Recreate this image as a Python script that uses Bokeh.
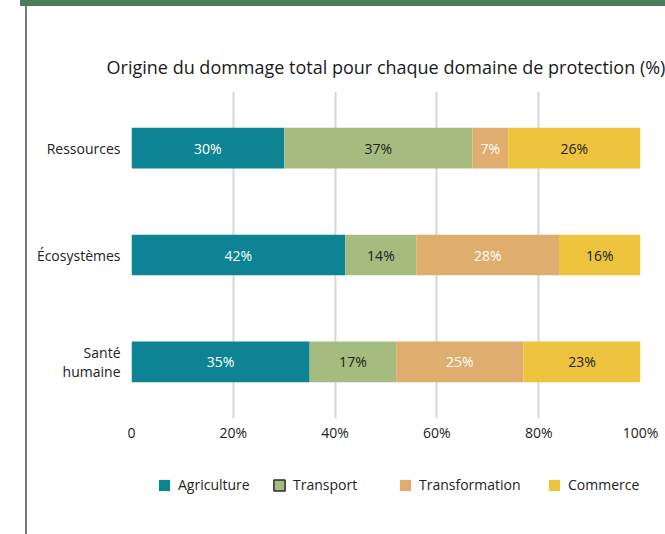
from bokeh.plotting import figure
from bokeh.layouts import column
from bokeh.models import (FactorRange, FixedTicker, Legend, LegendItem, ColumnDataSource)
from bokeh.core.properties import value
from bokeh.embed import file_html
from bokeh.resources import INLINE
import numpy as np

# ---- data ----
domains = ["Ressources", "Écosystèmes", "Santé\nhumaine"]
sources = ["Agriculture", "Transport", "Transformation", "Commerce"]
agriculture = [30, 42, 35]
transport = [37, 14, 17]
transformation = [7, 28, 25]
commerce = [26, 16, 23]
x_ticks = [0, 20, 40, 60, 80, 100]
x_tick_labels = ["0", "20%", "40%", "60%", "80%", "100%"]
title_text = "Origine du dommage total pour chaque domaine de protection (%)"

colors = ["#0d8494", "#a5bc7e", "#dfad6e", "#eec43f"]
label_colors = ["#ffffff", "#222222", "#ffffff", "#222222"]
FONT = "Open Sans"

W = 665
H1, H2 = 450, 84
FRAME_L, FRAME_R = 131, 640

p = figure(width=W, height=H1, output_backend="svg", toolbar_location=None,
           y_range=FactorRange(factors=domains[::-1], range_padding=0.02),
           x_range=(0, 100),
           min_border_left=FRAME_L, min_border_right=W - FRAME_R,
           min_border_top=91, min_border_bottom=H1 - 418)
p.outline_line_color = None
p.background_fill_color = "white"
p.border_fill_alpha = 0

p.title.text = title_text
p.title.align = "center"
p.title.text_font = FONT
p.title.text_font_size = "18px"
p.title.text_font_style = "normal"
p.title.text_color = "#1a1a1a"
p.title.standoff = 26

series = [agriculture, transport, transformation, commerce]
left = np.zeros(len(domains))
for name, vals, col, lcol in zip(sources, series, colors, label_colors):
    vals = np.array(vals, dtype=float)
    right = left + vals
    src = ColumnDataSource(dict(y=domains, left=left, right=right,
                                mid=(left + right) / 2,
                                txt=[f"{int(v)}%" for v in vals]))
    p.hbar(y="y", left="left", right="right", height=0.38, source=src,
           fill_color=col, line_color=None)
    p.text(x="mid", y="y", text="txt", source=src, text_align="center",
           text_baseline="middle", text_color=lcol, text_font=value(FONT),
           text_font_size="14px")
    left = right

p.xgrid.ticker = FixedTicker(ticks=x_ticks)
p.xgrid.grid_line_color = "#d6d6d6"
p.xgrid.grid_line_width = 2
p.ygrid.grid_line_color = None

p.xaxis.ticker = FixedTicker(ticks=x_ticks)
p.xaxis.major_label_overrides = {t: l for t, l in zip(x_ticks, x_tick_labels)}
p.xaxis.axis_line_color = None
p.xaxis.major_tick_line_color = None
p.xaxis.minor_tick_line_color = None
p.xaxis.major_tick_out = 0
p.xaxis.major_label_standoff = 4
p.xaxis.major_label_text_font = FONT
p.xaxis.major_label_text_font_size = "14px"
p.xaxis.major_label_text_color = "#222222"

p.yaxis.axis_line_color = None
p.yaxis.major_tick_line_color = None
p.yaxis.minor_tick_line_color = None
p.yaxis.major_label_standoff = 5
p.yaxis.major_label_text_font = FONT
p.yaxis.major_label_text_font_size = "14px"
p.yaxis.major_label_text_line_height = 1.0
p.yaxis.major_label_text_color = "#222222"

# ---- legend strip (its frame is aligned with the chart frame by the column) ----
p2 = figure(width=W, height=H2, output_backend="svg", toolbar_location=None,
            x_range=(0, 1), y_range=(0, 1),
            x_axis_location=None, y_axis_location=None,
            min_border_left=0, min_border_right=0, min_border_top=0, min_border_bottom=0)
p2.outline_line_color = None
p2.grid.visible = False
p2.background_fill_color = "white"
p2.border_fill_alpha = 0

leg_x = [157, 272, 398, 547]
for name, col, lx in zip(sources, colors, leg_x):
    lc = "#2b2b2b" if name == "Transport" else None
    # swatch renderer: one undefined (NaN) point, so nothing is drawn on the canvas
    rr = p2.rect(x=[np.nan], y=[np.nan], width=1, height=1, fill_color=col,
                 line_color=lc, line_width=1.5)
    lg = Legend(items=[LegendItem(label=name, renderers=[rr])],
                location=(lx - FRAME_L, 40), orientation="horizontal",
                glyph_width=14, glyph_height=14, label_height=14,
                label_standoff=7, padding=0, margin=0, spacing=0,
                border_line_color=None, background_fill_alpha=0,
                label_text_font=FONT, label_text_font_size="14px",
                label_text_color="#222222")
    p2.add_layout(lg, "center")

layout = column(p, p2, spacing=0)
# page decoration of the cropped source: green header strip and grey left rule
layout.styles = {
    "background": ("linear-gradient(#4e7b5b, #4e7b5b) 20px 0px / 645px 6px no-repeat, "
                   "linear-gradient(#7a7a7a, #7a7a7a) 25px 6px / 2px 528px no-repeat, #ffffff"),
}
open("out.html", "w").write(file_html(layout, INLINE))
